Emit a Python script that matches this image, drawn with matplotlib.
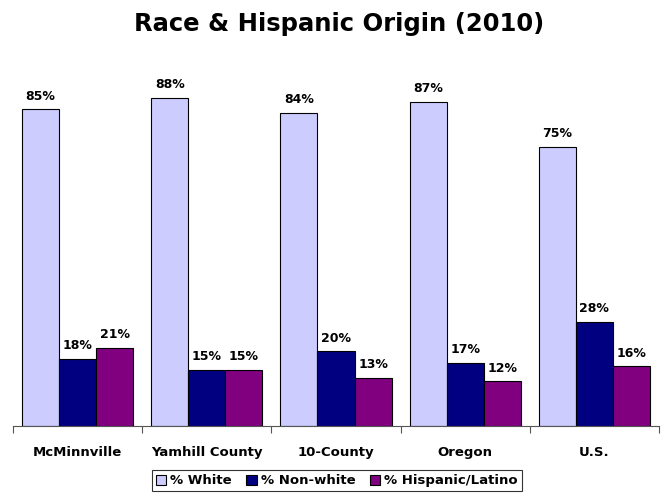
import matplotlib.pyplot as plt
import numpy as np

places = ['McMinnville', 'Yamhill County', '10-County', 'Oregon', 'U.S.']
white = [85, 88, 84, 87, 75]
nonwhite = [18, 15, 20, 17, 28]
hispanic = [21, 15, 13, 12, 16]
series_names = ['% White', '% Non-white', '% Hispanic/Latino']
colors = ['#CCCCFF', '#000080', '#800080']

plt.rcParams['font.family'] = ['DejaVu Sans']

fig = plt.figure(figsize=(6.63, 4.97), dpi=100)
ax = fig.add_axes([0.0196, 0.143, 0.9744, 0.712])

x = np.arange(len(places))
w = 0.287
for k, (vals, c, name) in enumerate(zip([white, nonwhite, hispanic], colors, series_names)):
    pos = x + (k - 1) * w
    ax.bar(pos, vals, width=w, color=c, edgecolor='black', linewidth=0.8, label=name)
    for p, v in zip(pos, vals):
        ax.text(p, v + 1.8, '%d%%' % v, ha='center', va='bottom', fontsize=9, fontweight='bold')

ax.set_xlim(-0.5, len(places) - 0.5)
ax.set_ylim(0, 95)
for s in ['left', 'right', 'top']:
    ax.spines[s].set_visible(False)
ax.spines['bottom'].set_color('#555555')
ax.set_yticks([])
ax.set_xticks(np.arange(-0.5, len(places)), minor=False)
ax.set_xticklabels([])
ax.tick_params(axis='x', length=5, color='#555555')
for i, name in enumerate(places):
    ax.text(i, -5.3, name, ha='center', va='top', fontsize=9.5, fontweight='bold')

fig.text(0.511, 0.952, 'Race & Hispanic Origin (2010)', ha='center', va='center',
         fontsize=17.5, fontweight='bold')

# legend box along the bottom
leg = fig.legend(loc='lower center', bbox_to_anchor=(0.508, -0.002), ncol=3, frameon=True,
                 fancybox=False, edgecolor='black', handlelength=0.8,
                 handleheight=0.8, handletextpad=0.3, columnspacing=1.1, borderpad=0.3,
                 prop={'weight': 'bold', 'size': 9.5})
leg.get_frame().set_linewidth(0.8)

fig.savefig('out.png', dpi=100)
